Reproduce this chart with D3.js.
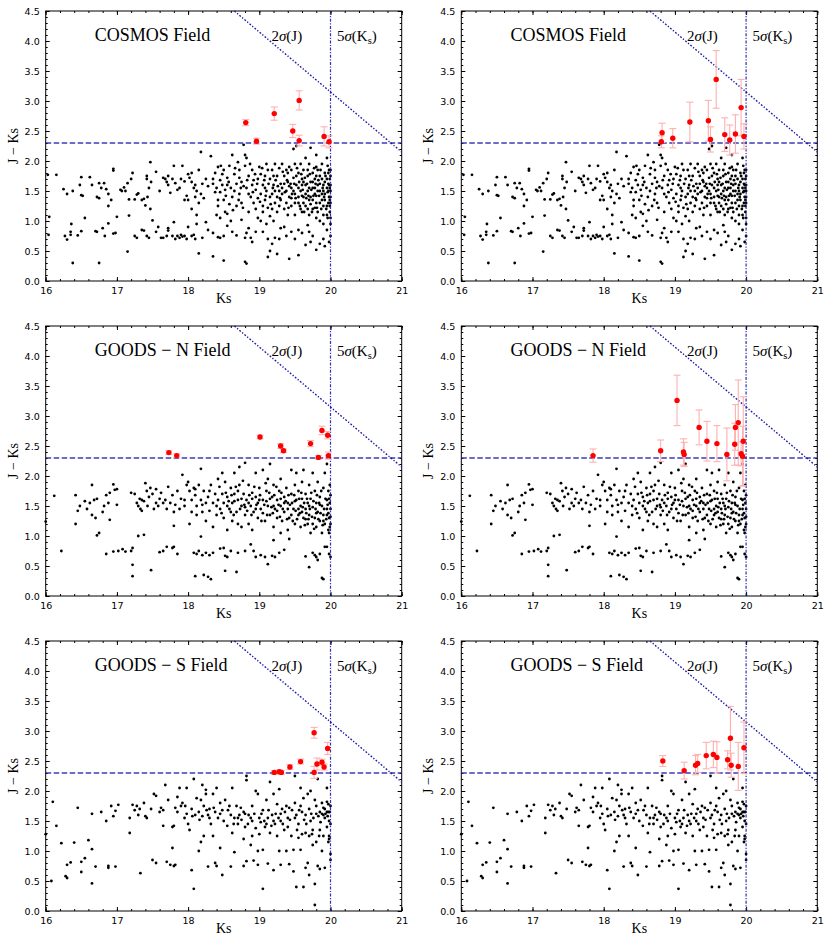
<!DOCTYPE html>
<html lang="en">
<head>
<meta charset="UTF-8">
<title>J - Ks vs Ks</title>
<style>
    body { margin: 0; background: #fff; }
    .tick text { font-family: "DejaVu Sans", sans-serif; font-size: 9.5px; fill: #000; }
    .tick line { stroke: #000; }
    .axlabel { font-family: "Liberation Serif", "Times New Roman", Times, serif; font-size: 14px; fill: #000; }
    .title { font-family: "Liberation Serif", "Times New Roman", Times, serif; font-size: 18px; fill: #000; }
    .note { font-family: "Liberation Serif", "Times New Roman", Times, serif; font-size: 15px; fill: #000; }
</style>
</head>
<body>
<svg id="chart"></svg>
<script src="https://d3js.org/d3.v7.min.js"></script>
<script>
const ksTicks = [16, 17, 18, 19, 20, 21];
const jkTicks = [0, 0.5, 1, 1.5, 2, 2.5, 3, 3.5, 4, 4.5];
const jkCut = 2.3, ksLimit = 20, jLimit = 23.15;

// black points [Ks, J-Ks], shared by both columns of a field
const cosmosDots = [
[16.03,1.77],[16.15,1.77],[16.05,1.07],[16.04,0.77],[16.25,1.53],[16.3,1.45],[16.38,1.5],[16.48,1.6],[16.5,1.73],[16.5,1.43],[16.52,1.42],[16.55,1.05],
[16.27,0.75],[16.3,0.69],[16.35,0.82],[16.35,0.77],[16.36,0.95],[16.45,0.76],[16.5,0.83],[16.38,0.3],
[16.62,1.73],[16.65,1.6],[16.72,1.4],[16.75,1.38],[16.75,1.63],[16.78,1.55],[16.82,1.63],[16.85,1.53],[16.88,1.45],[16.88,1.25],[16.92,1.35],[16.95,1.87],[16.95,1.84],
[16.7,0.83],[16.72,0.82],[16.8,0.88],[16.83,0.75],[16.88,0.96],[16.95,0.79],[16.98,0.8],[17.0,1.07],[16.75,0.3],
[17.05,1.52],[17.07,1.5],[17.1,1.56],[17.12,1.5],[17.15,1.63],[17.17,1.36],[17.2,1.7],[17.22,1.8],[17.25,1.36],[17.28,1.44],[17.3,1.46],[17.35,1.35],[17.38,1.37],[17.42,1.75],[17.42,1.7],[17.45,1.55],[17.47,1.98],[17.4,1.26],[17.43,1.4],[17.47,1.2],[17.48,1.65],
[17.17,1.09],[17.15,0.49],[17.25,0.75],[17.28,0.72],[17.35,0.85],[17.38,0.84],[17.42,0.75],[17.45,0.72],[17.5,1.01],[17.55,0.82],[17.58,0.9],
[17.55,1.82],[17.6,1.5],[17.65,1.72],[17.68,1.7],[17.7,1.65],[17.72,1.6],[17.72,1.75],[17.75,1.47],[17.78,1.7],[17.8,1.92],[17.82,1.63],[17.85,1.52],[17.88,1.55],[17.9,1.7],[17.92,1.92],[17.95,1.66],[17.95,1.35],[17.98,1.42],
[17.62,0.72],[17.65,0.72],[17.7,0.75],[17.72,0.88],[17.72,0.84],[17.78,0.75],[17.8,0.98],[17.82,0.7],[17.85,0.75],[17.88,0.72],[17.9,0.77],[17.92,0.74],[17.95,0.75],[17.98,0.7],
[18.0,1.78],[18.02,1.72],[18.05,1.8],[18.05,1.65],[18.08,1.55],[18.1,1.6],[18.1,1.4],[18.12,1.5],[18.15,1.85],[18.15,1.3],[18.18,2.15],[18.18,1.45],[18.2,1.62],[18.22,1.38],[18.25,1.7],[18.28,1.58],[18.05,1.2],[18.0,1.35],[18.12,1.1],
[18.0,0.9],[18.05,0.75],[18.08,0.77],[18.1,0.7],[18.12,0.95],[18.15,0.46],[18.2,0.72],[18.28,0.85],[18.25,0.98],
[18.32,2.08],[18.35,1.7],[18.35,1.62],[18.38,1.8],[18.4,1.55],[18.42,1.9],[18.42,1.25],[18.45,1.48],[18.45,1.68],[18.48,1.6],[18.5,1.85],[18.5,1.35],[18.52,1.15],[18.55,1.6],[18.55,1.72],[18.58,1.92],[18.6,1.55],[18.62,1.4],[18.62,2.1],[18.65,1.78],[18.68,1.62],[18.68,1.25],[18.7,1.98],
[18.4,1.1],[18.45,1.05],[18.55,1.12],[18.6,1.0],[18.35,0.8],[18.42,0.73],[18.45,0.72],[18.5,0.75],[18.55,0.92],[18.62,0.82],[18.68,0.76],[18.35,0.41],[18.5,0.34],
[18.72,1.85],[18.72,1.45],[18.75,1.65],[18.75,1.3],[18.78,2.27],[18.8,2.1],[18.8,1.92],[18.82,2.05],[18.82,1.55],[18.85,1.75],[18.85,1.15],[18.88,1.4],[18.9,1.6],[18.9,1.85],[18.92,1.3],[18.95,1.52],[18.95,1.2],[18.98,1.7],[18.98,1.05],
[18.75,1.02],[18.8,0.72],[18.82,0.8],[18.85,0.88],[18.88,0.72],[18.9,0.65],[18.95,0.82],[18.8,0.32],[18.82,0.29],
[19.0,1.9],[19.02,1.45],[19.05,1.6],[19.05,1.15],[19.08,1.75],[19.08,1.35],[19.1,1.95],[19.1,1.5],[19.12,1.22],[19.15,1.7],[19.15,1.08],[19.18,1.45],[19.18,1.85],[19.2,1.6],[19.22,1.3],[19.22,1.95],[19.25,1.75],[19.25,1.15],[19.28,1.5],[19.28,1.88],[19.3,1.35],[19.3,1.62],
[19.02,1.0],[19.1,0.95],[19.2,1.0],[19.05,0.82],[19.12,0.7],[19.15,0.5],[19.12,0.4],[19.18,0.62],[19.22,0.72],[19.25,0.45],[19.28,0.7],[19.3,0.88],
[19.32,1.95],[19.35,1.75],[19.35,1.2],[19.38,1.5],[19.38,1.85],[19.4,1.65],[19.4,1.1],[19.42,1.4],[19.42,1.9],[19.45,1.55],[19.45,1.25],[19.48,1.72],[19.48,2.2],[19.5,1.95],[19.5,1.45],[19.5,1.1],[19.52,2.25],[19.52,1.6],[19.55,1.8],[19.55,1.3],[19.58,1.5],[19.58,1.95],[19.6,1.7],[19.6,1.15],
[19.35,0.9],[19.38,0.75],[19.42,0.37],[19.45,0.82],[19.5,0.7],[19.55,0.85],[19.55,0.43],[19.6,0.8],
[19.62,1.85],[19.62,1.4],[19.65,1.6],[19.65,1.25],[19.65,2.05],[19.68,1.75],[19.68,1.5],[19.7,1.95],[19.7,1.35],[19.7,1.1],[19.72,1.65],[19.72,2.22],[19.75,1.55],[19.75,1.8],[19.75,1.2],[19.78,1.45],[19.78,1.7],[19.8,1.3],[19.8,1.9],[19.8,2.1],
[19.82,1.6],[19.82,1.15],[19.85,1.5],[19.85,1.75],[19.85,1.0],[19.88,1.35],[19.88,1.95],[19.9,1.6],[19.9,1.25],[19.92,1.8],[19.92,1.45],[19.95,1.7],[19.95,1.1],[19.95,2.05],[19.97,1.5],[19.97,1.3],[19.98,1.85],[19.99,1.15],[19.99,1.55],[20.0,1.4],[20.0,1.75],[20.0,0.95],
[19.65,0.6],[19.7,0.82],[19.72,0.65],[19.75,0.75],[19.8,0.52],[19.85,0.62],[19.9,0.7],[19.95,0.85],[19.98,0.65],[20.0,0.75],[19.92,0.58],[19.68,0.93],
[18.38,1.48],[18.48,1.78],[18.52,1.52],[18.58,1.28],[18.65,1.5],[18.72,1.72],[18.78,1.58],[18.85,1.45],[18.92,1.68],[18.98,1.38],[19.02,1.78],[19.05,1.25],[19.08,1.55],[19.12,1.85],[19.15,1.4],[19.18,1.2],[19.2,1.75],[19.22,1.5],[19.25,1.4],[19.28,1.25],
[19.32,1.55],[19.32,1.45],[19.35,1.62],[19.38,1.3],[19.4,1.8],[19.42,1.58],[19.45,1.38],[19.45,1.85],[19.48,1.5],[19.5,1.3],[19.52,1.75],[19.55,1.55],[19.55,1.4],[19.58,1.2],[19.6,1.6],[19.6,1.42],[19.62,1.3],[19.62,1.65],[19.65,1.45],[19.68,1.2],
[19.68,1.85],[19.7,1.55],[19.72,1.4],[19.72,1.28],[19.75,1.65],[19.75,1.35],[19.78,1.55],[19.78,1.22],[19.8,1.75],[19.8,1.42],[19.82,1.5],[19.82,1.85],[19.85,1.3],[19.85,1.62],[19.88,1.45],[19.88,1.7],[19.9,1.5],[19.9,1.1],[19.92,1.35],[19.92,1.65],
[19.95,1.55],[19.95,1.25],[19.97,1.62],[19.97,1.8],[19.98,1.4],[19.99,1.7],[19.99,1.25],[20.0,1.5],[20.0,1.6],[20.0,1.05],
[18.42,1.35],[18.46,1.92],[18.53,1.42],[18.57,1.65],[18.63,1.18],[18.66,1.88],[18.71,1.35],[18.74,1.55],[18.77,1.22],[18.83,1.68],[18.87,1.95],[18.91,1.48],[18.94,1.78],[18.97,1.62],[19.01,1.32],[19.04,1.88],[19.07,1.68],[19.09,1.42],[19.13,1.62],[19.16,1.28],
[19.19,1.55],[19.23,1.68],[19.26,1.58],[19.29,1.38],[19.33,1.82],[19.36,1.48],[19.39,1.68],[19.41,1.22],[19.44,1.62],[19.46,1.45],[19.49,1.62],[19.51,1.38],[19.53,1.88],[19.56,1.65],[19.57,1.25],[19.59,1.78],[19.61,1.52],[19.63,1.15],[19.64,1.72],[19.66,1.38],
[19.67,1.62],[19.69,1.42],[19.71,1.78],[19.73,1.52],[19.74,1.15],[19.76,1.42],[19.77,1.88],[19.79,1.62],[19.81,1.22],[19.83,1.68],[19.84,1.42],[19.86,1.85],[19.87,1.2],[19.89,1.55],[19.91,1.4],[19.93,1.75],[19.94,1.2],[19.96,1.48],[19.96,1.92],[19.98,1.6],
[19.99,1.35],[20.0,1.85],[20.0,1.3],[19.96,1.05],[19.9,0.95],[19.8,1.05]
];

const goodsNDots = [
[16.0,1.24],[16.12,1.67],[16.22,0.75],[16.42,1.68],[16.42,1.2],[16.45,1.42],[16.48,1.5],[16.55,1.58],[16.58,1.45],[16.62,1.55],[16.65,1.85],[16.65,1.35],[16.68,1.6],[16.7,1.3],[16.72,1.62],[16.72,1.01],[16.75,1.05],
[16.8,1.4],[16.82,1.5],[16.85,1.68],[16.88,1.55],[16.9,1.72],[16.9,1.27],[16.95,1.86],[16.97,1.77],[17.0,1.78],[17.0,1.52],[16.85,0.7],[16.95,0.74],[17.02,0.75],[17.08,0.78],[17.12,0.74],[17.2,0.75],[17.22,0.8],[17.22,0.52],[17.22,0.33],[17.3,1.0],[17.38,1.02],[17.48,0.43],
[17.2,1.72],[17.25,1.7],[17.28,1.55],[17.3,1.5],[17.32,1.62],[17.33,1.45],[17.35,1.42],[17.38,1.58],[17.4,1.88],[17.42,1.75],[17.43,1.5],[17.45,1.65],[17.47,1.8],[17.5,1.7],[17.52,1.45],[17.55,1.78],[17.58,1.5],[17.6,1.62],[17.62,1.72],[17.65,1.55],
[17.68,1.6],[17.7,1.45],[17.72,1.82],[17.75,1.55],[17.78,1.68],[17.8,1.4],[17.82,1.52],[17.85,1.75],[17.88,1.45],[17.9,1.62],[17.92,2.02],[17.95,1.5],[17.98,1.85],[17.8,1.17],[17.6,0.73],[17.65,0.75],[17.7,0.82],[17.78,0.8],[17.8,0.82],[17.85,0.7],
[18.0,1.9],[18.02,1.75],[18.05,1.6],[18.05,1.4],[18.08,1.8],[18.1,1.68],[18.12,1.5],[18.12,1.35],[18.15,1.85],[18.18,1.6],[18.18,2.12],[18.2,1.4],[18.22,1.75],[18.25,1.55],[18.25,1.25],[18.28,1.65],[18.3,1.42],[18.32,1.85],[18.35,1.55],[18.35,1.15],
[18.38,1.7],[18.4,1.35],[18.42,1.95],[18.42,1.6],[18.45,1.45],[18.48,2.05],[18.48,1.7],[18.5,1.3],[18.5,1.55],[18.18,0.99],[18.02,1.2],[18.08,0.72],[18.12,0.7],[18.15,0.75],[18.2,0.68],[18.25,0.72],[18.3,0.68],[18.35,0.72],
[18.1,0.33],[18.22,0.35],[18.28,0.32],[18.32,0.28],[18.45,0.79],[18.5,0.8],[18.52,0.67],[18.52,0.42],[18.55,0.65],[18.6,0.75],
[18.52,1.9],[18.55,1.65],[18.55,1.1],[18.58,1.45],[18.6,1.8],[18.62,1.55],[18.62,1.25],[18.65,2.05],[18.65,1.7],[18.68,1.4],[18.7,1.6],[18.7,1.2],[18.72,2.15],[18.72,1.85],[18.75,1.5],[18.75,1.15],[18.78,1.7],[18.8,2.22],[18.8,1.35],[18.82,1.6],
[18.85,1.85],[18.85,1.2],[18.88,1.5],[18.9,1.72],[18.9,1.1],[18.92,1.4],[18.95,1.65],[18.95,2.05],[18.98,1.3],[18.98,1.55],[18.68,0.4],[18.7,0.72],[18.8,0.75],[18.88,0.86],[18.92,0.75],[18.95,0.65],
[19.0,1.8],[19.02,1.45],[19.05,2.1],[19.05,1.6],[19.08,1.25],[19.1,1.75],[19.12,1.5],[19.12,1.95],[19.15,1.35],[19.15,2.2],[19.18,1.65],[19.2,1.85],[19.2,1.15],[19.22,1.45],[19.25,1.6],[19.25,1.3],[19.28,1.75],[19.3,1.5],[19.3,1.95],[19.32,1.25],
[19.35,1.65],[19.35,1.4],[19.38,1.8],[19.4,1.55],[19.4,1.1],[19.42,1.3],[19.45,2.1],[19.45,1.7],[19.48,1.45],[19.5,1.85],[19.5,1.2],[19.2,0.93],[19.3,1.05],[19.02,0.68],[19.08,0.65],[19.12,0.53],[19.18,0.67],[19.22,0.65],[19.28,0.72],[19.35,0.77],[19.42,0.95],
[19.52,1.6],[19.52,2.05],[19.55,1.35],[19.55,1.75],[19.58,1.5],[19.58,1.15],[19.6,1.9],[19.6,1.62],[19.62,1.3],[19.62,2.1],[19.65,1.45],[19.65,1.7],[19.68,1.2],[19.68,1.55],[19.7,1.85],[19.7,1.35],[19.72,1.05],[19.72,1.62],[19.75,1.48],[19.75,2.05],
[19.78,1.3],[19.78,1.75],[19.8,1.15],[19.8,1.55],[19.82,1.9],[19.82,1.4],[19.85,1.25],[19.85,1.65],[19.88,1.5],[19.88,1.05],[19.9,1.8],[19.9,1.35],[19.92,2.05],[19.92,1.2],[19.95,1.6],[19.95,1.45],[19.95,2.2],[19.97,1.1],[19.97,1.75],[19.98,1.3],
[19.99,1.55],[19.99,1.85],[20.0,1.2],[20.0,1.45],[19.65,0.66],[19.7,0.48],[19.75,0.72],[19.78,0.68],[19.8,0.65],[19.82,0.6],[19.85,0.7],[19.88,0.3],[19.9,0.28],[19.92,0.82],[19.95,0.82],[19.98,0.7],[20.0,0.65],
[18.55,1.5],[18.6,1.4],[18.65,1.58],[18.7,1.75],[18.75,1.62],[18.8,1.48],[18.85,1.55],[18.9,1.62],[18.95,1.45],[19.0,1.6],[19.05,1.38],[19.1,1.58],[19.15,1.62],[19.2,1.5],[19.25,1.42],[19.3,1.62],[19.35,1.55],[19.4,1.45],[19.45,1.35],[19.5,1.58],
[19.55,1.45],[19.6,1.4],[19.65,1.28],[19.7,1.5],[19.75,1.2],[19.8,1.38],[19.85,1.52],[19.9,1.25],[19.95,1.35],[19.98,1.62],[18.3,1.75],[18.4,1.5],[18.2,1.52],[18.1,1.78],[17.95,1.6],[17.55,1.55],[17.35,1.6],
[18.44,1.82],[18.47,1.38],[18.53,1.72],[18.57,1.58],[18.61,1.68],[18.64,1.35],[18.67,1.82],[18.73,1.45],[18.77,1.92],[18.79,1.52],[18.83,1.42],[18.86,1.68],[18.89,1.35],[18.93,1.82],[18.96,1.52],[19.01,1.68],[19.03,1.25],[19.07,1.52],[19.09,1.88],[19.11,1.35],
[19.14,1.72],[19.17,1.48],[19.19,1.38],[19.21,1.68],[19.24,1.82],[19.27,1.52],[19.29,1.32],[19.31,1.72],[19.33,1.45],[19.37,1.58],[19.39,1.28],[19.41,1.68],[19.43,1.52],[19.46,1.55],[19.47,1.25],[19.49,1.68],[19.51,1.42],[19.53,1.28],[19.56,1.62],[19.57,1.38],
[19.59,1.72],[19.61,1.48],[19.63,1.55],[19.64,1.18],[19.66,1.38],[19.67,1.62],[19.69,1.28],[19.71,1.45],[19.73,1.72],[19.74,1.32],[19.76,1.58],[19.77,1.12],[19.79,1.45],[19.81,1.68],[19.83,1.28],[19.84,1.55],[19.86,1.38],[19.87,1.75],[19.89,1.18],[19.91,1.45],
[19.93,1.62],[19.94,1.28],[19.96,1.52],[19.97,1.38],[19.99,1.15],[20.0,1.68],[20.0,1.32],[19.98,1.05]
];

const goodsSDots = [
[16.0,1.28],[16.08,0.5],[16.1,1.82],[16.15,1.42],[16.22,1.13],[16.3,0.77],[16.28,0.58],[16.3,0.55],[16.35,0.81],[16.4,1.14],[16.45,1.72],[16.5,0.82],[16.5,0.65],[16.55,0.88],[16.6,1.18],[16.65,1.62],[16.65,1.03],[16.65,0.46],[16.7,0.74],
[16.78,1.65],[16.85,1.5],[16.88,0.75],[16.88,0.72],[16.92,1.75],[16.95,1.58],[16.98,1.67],[16.98,0.74],[17.02,1.77],[17.18,1.55],[17.18,1.3],[17.22,1.77],[17.25,1.68],[17.28,1.75],[17.3,1.6],[17.32,1.7],[17.33,0.63],[17.38,1.8],[17.4,1.58],[17.42,1.55],[17.48,1.7],
[17.5,0.85],[17.52,1.95],[17.55,1.92],[17.55,0.8],[17.6,1.65],[17.62,1.72],[17.65,1.68],[17.65,1.42],[17.68,2.1],[17.7,0.82],[17.72,1.85],[17.75,0.77],[17.78,1.4],[17.78,1.05],[17.8,1.42],[17.82,1.72],[17.82,0.77],[17.8,0.75],[17.85,1.9],[17.85,1.65],
[17.88,2.05],[17.9,1.75],[17.92,1.8],[17.95,1.55],[17.98,2.05],[17.98,1.62],
[18.0,1.45],[18.02,1.35],[18.05,1.7],[18.05,0.68],[18.08,2.2],[18.08,0.37],[18.1,1.6],[18.12,1.88],[18.15,1.0],[18.18,1.85],[18.18,1.15],[18.2,2.1],[18.2,1.58],[18.22,1.75],[18.22,1.25],[18.25,2.02],[18.25,1.95],[18.28,1.6],[18.28,0.74],[18.3,1.7],
[18.32,1.45],[18.35,1.95],[18.35,1.25],[18.38,1.65],[18.38,0.8],[18.4,2.05],[18.4,0.75],[18.42,1.55],[18.45,1.8],[18.45,1.05],[18.48,1.68],[18.48,0.6],[18.5,1.5],
[18.52,1.85],[18.55,1.42],[18.58,1.75],[18.6,0.74],[18.62,1.3],[18.62,2.05],[18.65,1.55],[18.65,0.98],[18.68,1.75],[18.7,1.45],[18.72,1.6],[18.75,1.52],[18.78,1.65],[18.78,0.75],[18.8,1.4],[18.82,2.25],[18.82,2.18],[18.82,0.83],[18.85,1.6],[18.88,1.55],
[18.9,1.25],[18.9,1.75],[18.92,0.84],[18.95,2.0],[18.95,1.38],[18.98,1.95],[18.98,0.77],[18.98,1.0],[18.88,1.1],[18.78,1.2],
[19.0,1.28],[19.02,1.48],[19.05,1.68],[19.05,1.02],[19.05,0.37],[19.08,1.4],[19.1,1.85],[19.12,1.55],[19.12,0.79],[19.15,2.15],[19.15,1.3],[19.18,1.6],[19.2,1.95],[19.2,0.68],[19.22,1.45],[19.25,1.78],[19.25,1.25],[19.28,2.03],[19.28,1.0],[19.3,1.5],
[19.3,0.77],[19.32,1.7],[19.35,1.35],[19.38,1.75],[19.38,1.0],[19.4,1.55],[19.42,1.72],[19.42,0.78],[19.45,1.25],[19.48,0.66],[19.48,1.02],[19.5,1.8],[19.5,2.25],
[19.52,1.6],[19.52,0.4],[19.55,1.22],[19.55,1.45],[19.58,2.05],[19.58,1.75],[19.6,1.28],[19.62,1.88],[19.62,0.4],[19.65,1.3],[19.65,1.6],[19.68,1.95],[19.68,0.8],[19.7,1.25],[19.7,0.6],[19.72,1.5],[19.72,2.0],[19.75,1.35],[19.75,1.1],[19.78,1.85],
[19.78,0.45],[19.78,0.1],[19.8,1.15],[19.8,1.62],[19.82,2.2],[19.82,0.75],[19.85,1.65],[19.85,1.35],[19.85,0.7],[19.88,1.8],[19.88,1.0],[19.9,1.6],[19.9,1.25],[19.92,1.7],[19.92,0.72],[19.95,1.82],[19.95,1.4],[19.95,2.05],[19.97,1.15],[19.97,1.65],
[19.98,1.25],[20.0,1.75],[20.0,1.45],[20.0,0.85],[20.0,0.95],[19.98,1.2],[19.65,0.72],[19.58,1.02],
[18.6,1.6],[18.7,1.55],[18.8,1.62],[18.9,1.5],[19.0,1.55],[19.1,1.45],[19.2,1.5],[19.3,1.62],[19.4,1.4],[19.5,1.55],[19.6,1.65],[19.7,1.7],[19.8,1.75],[19.88,1.62],[19.92,1.55],[19.95,1.65],[19.97,1.78],[18.3,1.55],[18.45,1.62],[18.15,1.65],
[18.56,1.68],[18.64,1.45],[18.74,1.72],[18.84,1.45],[18.93,1.62],[19.03,1.62],[19.07,1.5],[19.13,1.68],[19.17,1.42],[19.23,1.62],[19.27,1.55],[19.33,1.45],[19.36,1.65],[19.43,1.52],[19.46,1.68],[19.53,1.35],[19.56,1.68],[19.63,1.52],[19.66,1.45],[19.73,1.62],
[19.76,1.55],[19.83,1.58],[19.86,1.48],[19.9,1.72],[19.93,1.62],[19.96,1.58],[19.99,1.65],[19.98,1.5],[19.84,1.25],[19.74,1.28],[18.26,1.68],[18.36,1.72],[18.16,1.52],[18.06,1.58],[17.96,1.75]
];

// red sources [Ks, J-Ks, error]; A = left column, B = right column
const cosmosRedA = [[18.81,2.64,0.05],[18.96,2.33,0.05],[19.21,2.79,0.11],[19.47,2.5,0.11],[19.56,3.01,0.16],[19.56,2.34,0.09],[19.91,2.41,0.16],[19.98,2.32,0.1]];
const cosmosRedB = [[18.81,2.32,0.1],[18.82,2.47,0.16],[18.97,2.38,0.16],[19.21,2.65,0.33],[19.47,2.67,0.34],[19.5,2.36,0.21],[19.58,3.36,0.48],[19.7,2.44,0.28],[19.77,2.35,0.25],[19.85,2.45,0.32],[19.93,2.89,0.47],[19.97,2.41,0.21]];
const goodsNRedA = [[17.73,2.39,0.03],[17.84,2.34,0.03],[19.01,2.65,0.03],[19.3,2.5,0.04],[19.34,2.42,0.03],[19.72,2.54,0.05],[19.83,2.31,0.03],[19.88,2.76,0.07],[19.96,2.68,0.06],[19.97,2.34,0.06]];
const goodsNRedB = [[17.85,2.34,0.11],[18.8,2.42,0.18],[19.03,3.26,0.42],[19.12,2.4,0.22],[19.13,2.36,0.2],[19.34,2.81,0.29],[19.45,2.58,0.33],[19.59,2.54,0.3],[19.73,2.36,0.44],[19.84,2.53,0.35],[19.85,2.81,0.38],[19.89,2.89,0.71],[19.93,2.37,0.2],[19.95,2.33,0.5],[19.96,2.58,0.74]];
const goodsSRedA = [[19.21,2.31,0.03],[19.28,2.32,0.03],[19.31,2.31,0.03],[19.43,2.4,0.04],[19.58,2.49,0.04],[19.77,2.97,0.09],[19.77,2.31,0.1],[19.81,2.45,0.1],[19.88,2.48,0.05],[19.91,2.4,0.05],[19.96,2.71,0.1]];
const goodsSRedB = [[18.83,2.5,0.09],[19.13,2.34,0.14],[19.29,2.43,0.16],[19.32,2.46,0.15],[19.44,2.59,0.22],[19.54,2.61,0.22],[19.59,2.56,0.26],[19.74,2.52,0.15],[19.78,2.88,0.53],[19.79,2.43,0.2],[19.89,2.41,0.4],[19.97,2.72,0.43]];

const panels = [
    { title: "COSMOS Field", dots: cosmosDots, red: cosmosRedA, col: 0, row: 0 },
    { title: "COSMOS Field", dots: cosmosDots, red: cosmosRedB, col: 1, row: 0 },
    { title: "GOODS − N Field", dots: goodsNDots, red: goodsNRedA, col: 0, row: 1 },
    { title: "GOODS − N Field", dots: goodsNDots, red: goodsNRedB, col: 1, row: 1 },
    { title: "GOODS − S Field", dots: goodsSDots, red: goodsSRedA, col: 0, row: 2 },
    { title: "GOODS − S Field", dots: goodsSDots, red: goodsSRedB, col: 1, row: 2 }
];

let W = 831, H = 948,
    colX = [45.7, 461.3], rowY = [11, 326, 641],
    width = 356, height = 270;

let svg = d3.select("#chart").attr("width", W).attr("height", H);

let x = d3.scaleLinear().domain([16, 21]).range([0, width]);
let y = d3.scaleLinear().domain([0, 4.5]).range([height, 0]);

const blue = "#1a1aa8";

panels.forEach(p => {
    let g = svg.append("g")
        .attr("transform", `translate(${colX[p.col]},${rowY[p.row]})`);

    // ticks on all four sides, pointing in
    let xMinor = d3.range(16, 21.001, 0.2), yMinor = d3.range(0, 4.501, 0.1);
    let axes = [
        [d3.axisBottom(x).tickValues(ksTicks).tickFormat(d3.format("d")), `translate(0,${height})`],
        [d3.axisLeft(y).tickValues(jkTicks).tickFormat(d3.format(".1f")), null],
        [d3.axisTop(x).tickValues(ksTicks).tickFormat(""), null],
        [d3.axisRight(y).tickValues(jkTicks).tickFormat(""), `translate(${width},0)`]
    ];
    axes.forEach(([ax, tr]) => {
        let a = g.append("g").attr("class", "axis")
            .attr("transform", tr)
            .call(ax.tickSizeInner(-4).tickSizeOuter(0).tickPadding(6));
        a.select(".domain").remove();
    });
    let minors = [
        [d3.axisBottom(x).tickValues(xMinor), `translate(0,${height})`],
        [d3.axisTop(x).tickValues(xMinor), null],
        [d3.axisLeft(y).tickValues(yMinor), null],
        [d3.axisRight(y).tickValues(yMinor), `translate(${width},0)`]
    ];
    minors.forEach(([ax, tr]) => {
        let a = g.append("g").attr("class", "axis")
            .attr("transform", tr)
            .call(ax.tickSizeInner(-2).tickSizeOuter(0).tickFormat(""));
        a.select(".domain").remove();
    });

    g.append("rect")
        .attr("width", width).attr("height", height)
        .attr("fill", "none").attr("stroke", "#000").attr("stroke-width", 1);

    // black dots
    g.append("g").selectAll("circle")
        .data(p.dots)
        .enter().append("circle")
        .attr("cx", d => x(d[0]))
        .attr("cy", d => y(d[1]))
        .attr("r", 1.4)
        .attr("fill", "#000");

    // limit lines
    g.append("line")
        .attr("x1", x(16)).attr("x2", x(21))
        .attr("y1", y(jkCut)).attr("y2", y(jkCut))
        .attr("stroke", blue).attr("stroke-opacity", 0.85)
        .attr("stroke-width", 1.3).attr("stroke-dasharray", "5.5,2.5");
    g.append("line")
        .attr("x1", x(ksLimit)).attr("x2", x(ksLimit))
        .attr("y1", y(0)).attr("y2", y(4.5))
        .attr("stroke", blue).attr("stroke-opacity", 0.9)
        .attr("stroke-width", 1.2).attr("stroke-dasharray", "3,1.5,1.2,1.5");
    g.append("line")
        .attr("x1", x(jLimit - 4.5)).attr("y1", y(4.5))
        .attr("x2", x(21)).attr("y2", y(jLimit - 21))
        .attr("stroke", blue)
        .attr("stroke-width", 1.4).attr("stroke-dasharray", "1.8,1.8,1.2,1.8");

    // red sources with error bars
    let eb = g.append("g").attr("stroke", "#ffb0b0").attr("stroke-width", 1.1);
    p.red.forEach(d => {
        let cx = x(d[0]);
        eb.append("line").attr("x1", cx).attr("x2", cx)
            .attr("y1", y(d[1] - d[2])).attr("y2", y(d[1] + d[2]));
        [d[1] - d[2], d[1] + d[2]].forEach(v => {
            eb.append("line").attr("x1", cx - 3.5).attr("x2", cx + 3.5)
                .attr("y1", y(v)).attr("y2", y(v));
        });
    });
    g.append("g").selectAll("circle")
        .data(p.red)
        .enter().append("circle")
        .attr("cx", d => x(d[0]))
        .attr("cy", d => y(d[1]))
        .attr("r", 2.7)
        .attr("fill", "#ff0000");

    // texts
    g.append("text").attr("class", "title")
        .attr("x", x(16.69)).attr("y", y(4.0))
        .text(p.title);
    let n1 = g.append("text").attr("class", "note")
        .attr("x", x(19.17)).attr("y", y(4.0));
    n1.append("tspan").text("2");
    n1.append("tspan").attr("font-style", "italic").text("σ");
    n1.append("tspan").text("(J)");
    let n2 = g.append("text").attr("class", "note")
        .attr("x", x(20.09)).attr("y", y(4.0));
    n2.append("tspan").text("5");
    n2.append("tspan").attr("font-style", "italic").text("σ");
    n2.append("tspan").text("(K");
    n2.append("tspan").attr("dy", 3).attr("font-size", "10.5px").text("s");
    n2.append("tspan").attr("dy", -3).text(")");

    g.append("text").attr("class", "axlabel")
        .attr("x", width / 2).attr("y", height + 22)
        .attr("text-anchor", "middle")
        .text("Ks");
    g.append("text").attr("class", "axlabel")
        .attr("transform", `translate(${-28},${height / 2}) rotate(-90)`)
        .attr("text-anchor", "middle")
        .text("J − Ks");
});
</script>
</body>
</html>
